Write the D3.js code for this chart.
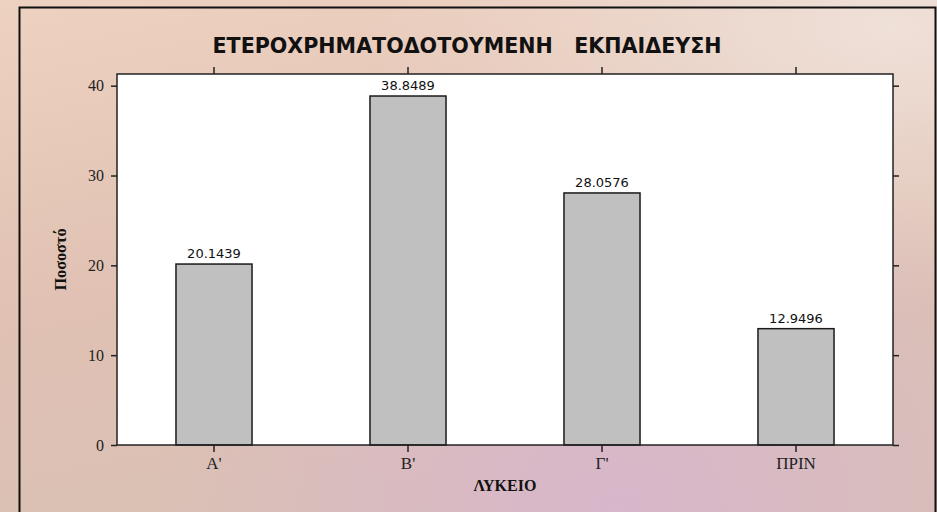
<!DOCTYPE html>
<html>
<head>
<meta charset="utf-8">
<script src="https://cdn.jsdelivr.net/npm/d3@7"></script>
<style>
  html, body { margin: 0; padding: 0; }
  body { width: 937px; height: 512px; overflow: hidden; }
  .tick text { font-family: "Liberation Serif", "Times New Roman", serif; font-size: 16px; fill: #222; }
  .domain { display: none; }
  .tick line { stroke: #222; stroke-width: 1.5; }
</style>
</head>
<body>
<div id="target"></div>
<script>
const categories = ["A'", "B'", "Γ'", "ΠΡΙΝ"];
const percents = [20.1439, 38.8489, 28.0576, 12.9496];
const yTicks = [0, 10, 20, 30, 40];
const title = 'ΕΤΕΡΟΧΡΗΜΑΤΟΔΟΤΟΥΜΕΝΗ   ΕΚΠΑΙΔΕΥΣΗ';

const width = 937;
const height = 512;
const plot = { 'left': 117, 'right': 893, 'top': 74, 'bottom': 445 };

const svg = d3.select('#target')
  .append('svg')
  .attr('width', width)
  .attr('height', height);

const defs = svg.append('defs');
const bg = defs.append('linearGradient')
  .attr('id', 'bg')
  .attr('x1', 0).attr('y1', 0).attr('x2', 0.35).attr('y2', 1);
bg.append('stop').attr('offset', '0%').attr('stop-color', '#eed2c1');
bg.append('stop').attr('offset', '55%').attr('stop-color', '#e0c1b3');
bg.append('stop').attr('offset', '100%').attr('stop-color', '#d9c1b4');

const pink = defs.append('radialGradient')
  .attr('id', 'pink')
  .attr('cx', 0.66).attr('cy', 1.0).attr('r', 0.5)
  .attr('gradientTransform', 'translate(0.66,1) scale(1,1.6) translate(-0.66,-1)');
pink.append('stop').attr('offset', '0%').attr('stop-color', '#d8b6cb').attr('stop-opacity', 1);
pink.append('stop').attr('offset', '100%').attr('stop-color', '#d8b6cb').attr('stop-opacity', 0);

const light = defs.append('radialGradient')
  .attr('id', 'light')
  .attr('cx', 0.95).attr('cy', 0.05).attr('r', 0.55);
light.append('stop').attr('offset', '0%').attr('stop-color', '#efe0d8').attr('stop-opacity', 1);
light.append('stop').attr('offset', '100%').attr('stop-color', '#efe0d8').attr('stop-opacity', 0);

svg.append('rect').attr('width', width).attr('height', height).attr('fill', 'url(#bg)');
svg.append('rect').attr('width', width).attr('height', height).attr('fill', 'url(#light)');
svg.append('rect').attr('width', width).attr('height', height).attr('fill', 'url(#pink)');

// outer frame, runs off the bottom edge
svg.append('path')
  .attr('d', `M19.5,${height + 5} V7.5 H935.5 V${height + 5}`)
  .attr('fill', 'none')
  .attr('stroke', '#111')
  .attr('stroke-width', 2);

const x = d3.scaleBand()
  .domain(categories)
  .range([plot.left, plot.right])
  .paddingInner(0.608)
  .paddingOuter(0.304);

const y = d3.scaleLinear()
  .domain([0, 41.3])
  .range([plot.bottom, plot.top]);

svg.append('rect')
  .attr('x', plot.left)
  .attr('y', plot.top)
  .attr('width', plot.right - plot.left)
  .attr('height', plot.bottom - plot.top)
  .attr('fill', '#fff');

const bars = svg.append('g').attr('class', 'bars');
bars.selectAll('rect')
  .data(percents)
  .enter()
  .append('rect')
  .attr('x', (d, i) => x(categories[i]))
  .attr('y', (d) => y(d))
  .attr('width', x.bandwidth())
  .attr('height', (d) => y(0) - y(d))
  .attr('fill', '#c0c0c0')
  .attr('stroke', '#1a1a1a')
  .attr('stroke-width', 1.5);

bars.selectAll('text')
  .data(percents)
  .enter()
  .append('text')
  .attr('x', (d, i) => x(categories[i]) + x.bandwidth() / 2)
  .attr('y', (d) => y(d) - 6)
  .attr('text-anchor', 'middle')
  .style('font-family', '"DejaVu Sans", sans-serif')
  .style('font-size', '13px')
  .style('fill', '#111')
  .text((d) => d.toFixed(4));

// plot frame
svg.append('rect')
  .attr('x', plot.left)
  .attr('y', plot.top)
  .attr('width', plot.right - plot.left)
  .attr('height', plot.bottom - plot.top)
  .attr('fill', 'none')
  .attr('stroke', '#222')
  .attr('stroke-width', 1.5);

svg.append('g')
  .attr('transform', `translate(${plot.left},0)`)
  .call(d3.axisLeft(y).tickValues(yTicks).tickSize(6).tickPadding(7));

svg.append('g')
  .attr('transform', `translate(${plot.right},0)`)
  .call(d3.axisRight(y).tickValues(yTicks).tickSize(6).tickFormat(''));

svg.append('g')
  .attr('transform', `translate(0,${plot.bottom})`)
  .call(d3.axisBottom(x).tickSize(7).tickPadding(5))
  .selectAll('text').style('font-size', '17px');

svg.append('g')
  .attr('transform', `translate(0,${plot.top})`)
  .call(d3.axisTop(x).tickSize(7).tickFormat(''));

svg.append('text')
  .attr('x', 467)
  .attr('y', 53)
  .attr('text-anchor', 'middle')
  .attr('textLength', 509)
  .attr('lengthAdjust', 'spacingAndGlyphs')
  .style('white-space', 'pre')
  .style('font-family', '"DejaVu Sans Condensed", "DejaVu Sans", sans-serif')
  .style('font-stretch', 'condensed')
  .style('font-weight', 'bold')
  .style('font-size', '21px')
  .style('fill', '#111')
  .text(title);

svg.append('text')
  .attr('x', (plot.left + plot.right) / 2)
  .attr('y', 491)
  .attr('text-anchor', 'middle')
  .style('font-family', '"Liberation Serif", "Times New Roman", serif')
  .style('font-weight', 'bold')
  .style('font-size', '16px')
  .style('fill', '#111')
  .text('ΛΥΚΕΙΟ');

svg.append('text')
  .attr('transform', `translate(66,${(plot.top + plot.bottom) / 2}) rotate(-90)`)
  .attr('text-anchor', 'middle')
  .attr('textLength', 62)
  .attr('lengthAdjust', 'spacingAndGlyphs')
  .style('font-family', '"Liberation Serif", "Times New Roman", serif')
  .style('font-weight', 'bold')
  .style('font-size', '17px')
  .style('fill', '#111')
  .text('Ποσοστό');
</script>
</body>
</html>
